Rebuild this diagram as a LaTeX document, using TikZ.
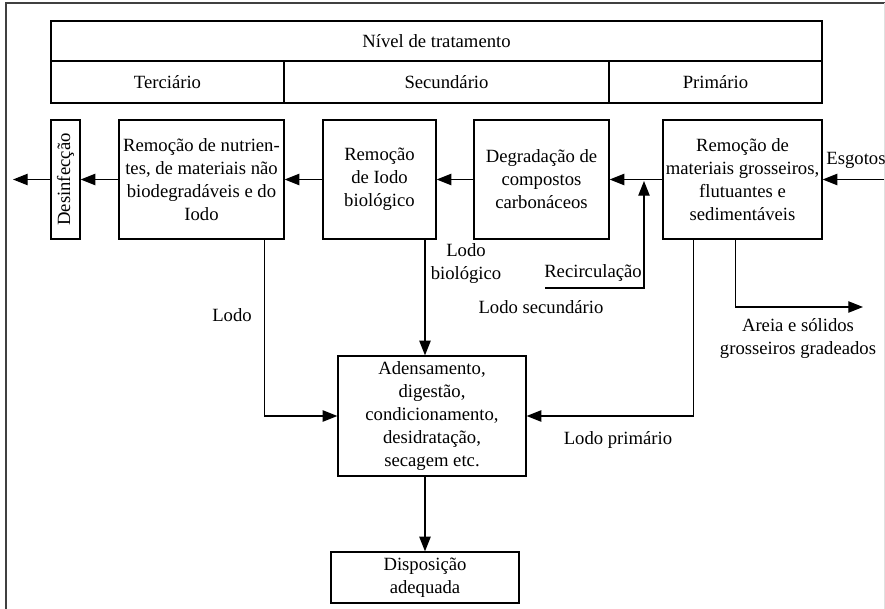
\documentclass[tikz,border=0pt]{standalone}
\usepackage{fontspec}
\setmainfont{Liberation Serif}
\usetikzlibrary{arrows.meta}
\tikzset{
  caixa/.style={draw, line width=0.9pt, align=center, inner sep=1pt},
  seta/.style={line width=0.9pt, -{Triangle[length=11pt,width=8.5pt]}},
  rotulo/.style={align=center, inner sep=0pt},
}
\begin{document}
\begin{tikzpicture}[x=0.75pt,y=-0.75pt,font=\fontsize{14}{17.25}\selectfont]
\useasboundingbox (0,0) rectangle (885,609);
\draw[line width=1pt,black!75] (6,609) -- (6,3) -- (885,3);
\draw[black!12] (884,3) -- (884,609);
% nivel de tratamento
\node[caixa, minimum width=578.25pt, minimum height=30pt] (nivel) at (436.5,41) {Nível de tratamento};
\node[caixa, minimum width=174.75pt, minimum height=31.5pt] (terc) at (167.5,82) {Terciário};
\node[caixa, minimum width=243.75pt, minimum height=31.5pt] (sec) at (446.5,82) {Secundário};
\node[caixa, minimum width=159.75pt, minimum height=31.5pt] (prim) at (715.5,82) {Primário};
% etapas
\node[caixa, minimum width=21.75pt, minimum height=89.25pt] (desinf) at (65.5,179.5) {\rotatebox{90}{Desinfecção}};
\node[caixa, minimum width=123.75pt, minimum height=89.25pt] (nutri) at (201.5,179.5)
  {Remoção de nutrien-\\tes, de materiais não\\biodegradáveis e do\\Iodo};
\node[caixa, minimum width=84.75pt, minimum height=89.25pt] (biol) at (379.5,179.5)
  {Remoção\\de Iodo\\biológico};
\node[caixa, minimum width=101.25pt, minimum height=89.25pt] (degr) at (541.5,179.5)
  {Degradação de\\compostos\\carbonáceos};
\node[caixa, minimum width=119.25pt, minimum height=89.25pt] (mater) at (742.5,179.5)
  {Remoção de\\materiais grosseiros,\\flutuantes e\\sedimentáveis};
\node[caixa, minimum width=141pt, minimum height=90pt] (aden) at (432,416)
  {Adensamento,\\digestão,\\condicionamento,\\desidratação,\\secagem etc.};
\node[caixa, minimum width=141pt, minimum height=38.25pt] (disp) at (425,577.5)
  {Disposição\\adequada};
% rotulos
\node[rotulo] (tesg) at (856,160) {Esgotos};
\node[rotulo] (tlodo) at (232,315) {Lodo};
\node[rotulo] (tbiol) at (466,264) {Lodo\\biológico};
\node[rotulo] (trec) at (593,273) {Recirculação};
\node[rotulo] (tsec) at (541,307) {Lodo secundário};
\node[rotulo] (tprim) at (618,440) {Lodo primário};
\node[rotulo] (tareia) at (798,339) {Areia e sólidos\\grosseiros gradeados};
% fluxo
\coordinate (esg) at (884,179.5);
\coordinate (saida) at (13,179.5);
\coordinate (rec) at (545,288);
\coordinate (recf) at (644,181);
\coordinate (areia) at (863,307);
\draw[seta] (esg) -- (mater.east);
\draw[seta] (mater.west) -- (degr.east);
\draw[seta] (degr.west) -- (biol.east);
\draw[seta] (biol.west) -- (nutri.east);
\draw[seta] (nutri.west) -- (desinf.east);
\draw[seta] (desinf.west) -- (saida);
\draw[seta] (rec) -| (recf);
\draw[seta] (biol.south -| disp.north) -- (aden.north -| disp.north);
\draw[seta] (aden.south -| disp.north) -- (disp.north);
\draw[seta] (nutri.south east) ++(-20,0) |- (aden.west);
\draw[seta] (mater.south west) ++(31,0) |- (aden.east);
\draw[seta] (mater.south west) ++(73,0) |- (areia);
\end{tikzpicture}
\end{document}
